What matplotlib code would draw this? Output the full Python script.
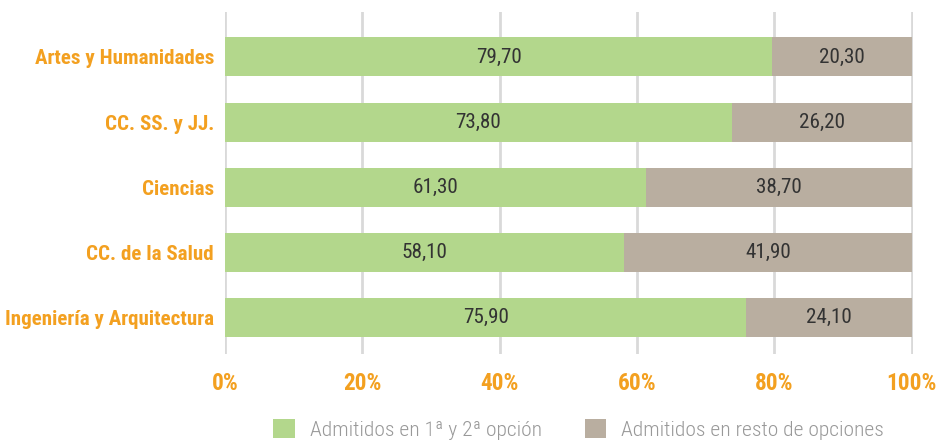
import matplotlib
matplotlib.use("Agg")
import matplotlib.pyplot as plt
from matplotlib import font_manager
from matplotlib.font_manager import FontProperties
from matplotlib.patches import Patch
import numpy as np

# ── Data ────────────────────────────────────────────────────────────────────
areas = ["Artes y Humanidades", "CC. SS. y JJ.", "Ciencias",
         "CC. de la Salud", "Ingeniería y Arquitectura"]
primera = [79.70, 73.80, 61.30, 58.10, 75.90]
resto = [20.30, 26.20, 38.70, 41.90, 24.10]
ticks = [0, 20, 40, 60, 80, 100]
series_names = ["Admitidos en 1ª y 2ª opción", "Admitidos en resto de opciones"]

GREEN = "#b3d78c"
TAUPE = "#b9aea0"
ORANGE = "#f3a020"
GRID = "#d9d9d9"


def _find_condensed(weight):
    """Look for an installed condensed / narrow face, preferring known families."""
    hits = []
    for f in font_manager.fontManager.ttflist:
        tag = (f.name + " " + f.fname + " " + str(f.stretch)).lower()
        if "condensed" not in tag and "narrow" not in tag:
            continue
        if "semi" in tag or "extra" in tag or "ultra" in tag:
            continue
        if f.style != "normal":
            continue
        w = f.weight if isinstance(f.weight, int) else (700 if "bold" in str(f.weight) else 400)
        if w != weight:
            continue
        hits.append(f)
    order = ["Roboto", "Liberation", "Noto Sans", "Open Sans", "DejaVu", "Lato", "Inter"]

    def rank(f):
        for i, key in enumerate(order):
            if key.lower() in f.name.lower():
                return i
        return len(order)
    hits.sort(key=rank)
    return FontProperties(fname=hits[0].fname) if hits else None


fp_bold = _find_condensed(700) or FontProperties(family="DejaVu Sans", weight="bold")
fp_reg = _find_condensed(400) or FontProperties(family="DejaVu Sans")
fp_light = _find_condensed(300) or fp_reg

fig = plt.figure(figsize=(9.38, 4.41), dpi=100)
renderer = fig.canvas.get_renderer()


def _fit_size(text, fp, target_px, base=14.0):
    """Font size so that `text` is about target_px wide."""
    t = fig.text(0, 0, text, fontproperties=fp, fontsize=base)
    w = t.get_window_extent(renderer).width
    t.remove()
    return base * target_px / w


cat_size = _fit_size("Artes y Humanidades", fp_bold, 180)
tick_size = _fit_size("100%", fp_bold, 50)
val_size = _fit_size("20,30", fp_reg, 46)
leg_size = _fit_size(series_names[0], fp_light, 232)

ax = fig.add_axes([0.2399, 0.1973, 0.7335, 0.7755])

y = np.arange(len(areas))[::-1]
ax.barh(y, primera, height=0.6, color=GREEN, zorder=2)
ax.barh(y, resto, left=primera, height=0.6, color=TAUPE, zorder=2)

for yi, p, r in zip(y, primera, resto):
    ax.text(p / 2, yi, f"{p:.2f}".replace(".", ","), ha="center", va="center",
            fontproperties=fp_reg, fontsize=val_size, color="#333333", zorder=3)
    ax.text(p + r / 2, yi, f"{r:.2f}".replace(".", ","), ha="center", va="center",
            fontproperties=fp_reg, fontsize=val_size, color="#333333", zorder=3)

ax.set_xlim(0, 100.2)
ax.set_ylim(-0.56, 4.69)
ax.set_xticks(ticks)
ax.set_xticklabels([f"{t}%" for t in ticks], fontproperties=fp_bold)
ax.set_yticks(y)
ax.set_yticklabels(areas, fontproperties=fp_bold)
for lbl in ax.get_xticklabels():
    lbl.set_color(ORANGE)
    lbl.set_fontsize(tick_size)
for lbl in ax.get_yticklabels():
    lbl.set_color(ORANGE)
    lbl.set_fontsize(cat_size)
ax.tick_params(axis="both", length=0)
ax.tick_params(axis="x", pad=13)
ax.tick_params(axis="y", pad=8)

ax.grid(axis="x", color=GRID, linewidth=2, zorder=0)
for s in ax.spines.values():
    s.set_visible(False)

handles = [Patch(facecolor=GREEN, label=series_names[0]),
           Patch(facecolor=TAUPE, label=series_names[1])]
leg_fp = fp_light.copy()
leg_fp.set_size(leg_size)
fig.legend(handles=handles, loc="center", bbox_to_anchor=(0.617, 0.026),
           ncol=2, frameon=False, prop=leg_fp, labelcolor="#999999",
           handlelength=1.0, handleheight=1.0, handletextpad=0.7,
           columnspacing=2.0)

fig.savefig("out.png", dpi=100, facecolor="white")
